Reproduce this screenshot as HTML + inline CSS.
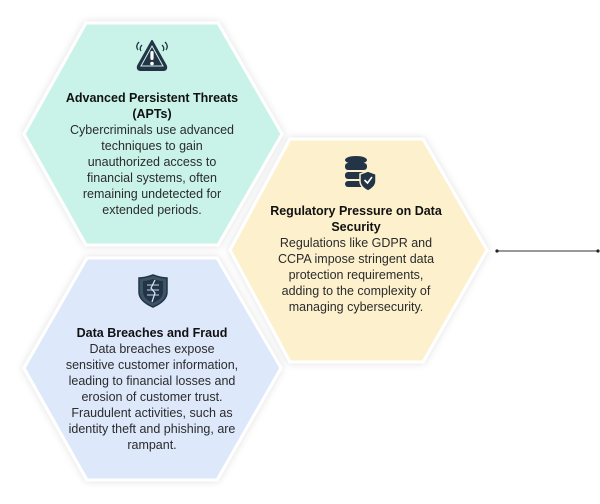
<!DOCTYPE html>
<html><head><style>
body{margin:0;width:600px;height:504px;background:#fff;position:relative;overflow:hidden;font-family:"Liberation Sans",sans-serif;}
.t{position:absolute;text-align:center;font-size:12.5px;line-height:16px;color:#2b2b2b;white-space:nowrap;}
.t b{color:#111;}
</style></head><body>
<svg width="600" height="504" style="position:absolute;left:0;top:0">
<defs><filter id="s" x="-10%" y="-10%" width="120%" height="120%"><feDropShadow dx="0" dy="0" stdDeviation="4" flood-color="#000" flood-opacity="0.12"/></filter></defs>
<polygon points="86,23 218,23 282,134 218,245 86,245 24,134" fill="#c9f3e8" stroke="#fff" stroke-width="3" filter="url(#s)"/>
<polygon points="87,258 217,258 281,368 217,480 87,480 24,368" fill="#dde8fb" stroke="#fff" stroke-width="3" filter="url(#s)"/>
<polygon points="290,139 423,139 487,250 423,362 290,362 230,250" fill="#fdf0cc" stroke="#fff" stroke-width="3" filter="url(#s)"/>
<line x1="497" y1="251" x2="598" y2="251" stroke="#333" stroke-width="1"/>
<circle cx="497" cy="251" r="1.6" fill="#222"/><circle cx="598" cy="251" r="1.6" fill="#222"/>
<g transform="translate(152,56)">
<path d="M0,-15 L14,10 Q15,14 11,14 L-11,14 Q-15,14 -14,10 Z" fill="#233447" stroke="#233447" stroke-width="2" stroke-linejoin="round"/>
<path d="M0,-10 L11,10 L-11,10 Z" fill="none" stroke="#c9f3e8" stroke-width="1"/>
<rect x="-1.6" y="-5" width="3.2" height="9" rx="1.5" fill="#fff"/><circle cx="0" cy="7.5" r="1.8" fill="#fff"/>
<path d="M-14,-6 Q-17,-10 -13,-14 M-11,-5 Q-13,-8 -10,-11 M14,-6 Q17,-10 13,-14 M11,-5 Q13,-8 10,-11" stroke="#233447" stroke-width="1.3" fill="none"/>
</g>
<g transform="translate(356,172)" fill="#233447">
<ellipse cx="0" cy="-12" rx="11" ry="4"/>
<rect x="-11" y="-9" width="22" height="7" rx="3"/>
<rect x="-11" y="0" width="22" height="7" rx="3"/>
<rect x="-11" y="9" width="20" height="6" rx="3"/>
<path d="M12,-1 L20,2 L20,9 Q20,15 12,19 Q4,15 4,9 L4,2 Z" fill="#233447" stroke="#fdf0cc" stroke-width="1.5"/>
<path d="M8.5,8 L11.5,11 L16,5" stroke="#fff" stroke-width="1.6" fill="none"/>
</g>
<g transform="translate(153,290)">
<path d="M0,-15 Q8,-12 14,-12 L14,2 Q14,11 0,17 Q-14,11 -14,2 L-14,-12 Q-8,-12 0,-15Z" fill="#3d5366" stroke="#233447" stroke-width="1.5"/>
<path d="M0,-11 Q6,-9 10,-9 L10,2 Q10,9 0,13 Q-10,9 -10,2 L-10,-9 Q-6,-9 0,-11Z" fill="#233447"/>
<path d="M-6,-5 H6 M-6,0 H6 M-6,5 H6" stroke="#8aa0b3" stroke-width="1.5"/>
<path d="M2,-10 L-2,-2 L2,3 L-1,12" stroke="#dde8fb" stroke-width="1.2" fill="none"/>
</g>
</svg>
<div class="t" style="left:52px;top:90px;width:200px"><b>Advanced Persistent Threats<br>(APTs)</b><br>Cybercriminals use advanced<br>techniques to gain<br>unauthorized access to<br>financial systems, often<br>remaining undetected for<br>extended periods.</div>
<div class="t" style="left:266px;top:203px;width:180px"><b>Regulatory Pressure on Data<br>Security</b><br>Regulations like GDPR and<br>CCPA impose stringent data<br>protection requirements,<br>adding to the complexity of<br>managing cybersecurity.</div>
<div class="t" style="left:52px;top:325px;width:200px"><b>Data Breaches and Fraud</b><br>Data breaches expose<br>sensitive customer information,<br>leading to financial losses and<br>erosion of customer trust.<br>Fraudulent activities, such as<br>identity theft and phishing, are<br>rampant.</div>
</body></html>
